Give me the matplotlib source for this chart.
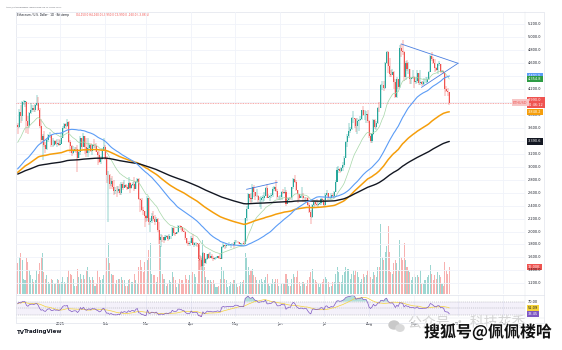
import numpy as np
import pandas as pd
import matplotlib
matplotlib.use("Agg")
import matplotlib.pyplot as plt
import matplotlib.dates as mdates
import matplotlib.transforms as mtransforms
import matplotlib.patheffects as pe
from matplotlib.patches import Ellipse

# ---------------- data (ETH / USD, 1D, Bitstamp) ----------------
dates = pd.date_range("2024-12-03", "2025-09-25", freq="D")
# closes before the first visible bar (Oct 15 - Dec 2, 2024), used only by the 50-day SMA
pre_close = [
    2605, 2610, 2605, 2645, 2645, 2745, 2665, 2620, 2525, 2535, 2440, 2480, 2505, 2570, 2640,
    2660, 2515, 2510, 2490, 2455, 2400, 2420, 2720, 2895, 2960, 3135, 3180, 3370, 3245, 3185,
    3060, 3100, 3130, 3070, 3205, 3105, 3070, 3355, 3330, 3390, 3360, 3415, 3325, 3655, 3585,
    3595, 3705, 3710, 3640,
]
first_open = 3640

close = [
    # Dec 3-31
    3615, 3838, 3785, 3995, 4005, 4005, 3710, 3628, 3830, 3880, 3907, 3870, 3960, 3990, 3880,
    3625, 3420, 3470, 3330, 3280, 3420, 3490, 3490, 3330, 3330, 3400, 3350, 3360, 3335,
    # Jan
    3355, 3450, 3605, 3655, 3635, 3685, 3380, 3325, 3220, 3265, 3280, 3270, 3140, 3225, 3450,
    3310, 3470, 3305, 3220, 3285, 3330, 3240, 3340, 3315, 3318, 3230, 3180, 3080, 3115, 3250, 3300,
    # Feb
    3120, 2870, 2880, 2735, 2785, 2690, 2630, 2630, 2625, 2660, 2600, 2740, 2675, 2725,
    2690, 2660, 2745, 2670, 2720, 2740, 2660, 2765, 2815, 2500, 2480, 2330, 2310, 2235,
    # Mar
    2215, 2520, 2150, 2170, 2240, 2200, 2140, 2200, 2020, 1865, 1920, 1910, 1865, 1910, 1935,
    1885, 1925, 1930, 2055, 1980, 1965, 1985, 2085, 2080, 2065, 2010, 2000, 1895, 1825, 1805, 1820,
    # Apr
    1905, 1795, 1815, 1815, 1805, 1580, 1555, 1470, 1670, 1520, 1570, 1650, 1595, 1620, 1585,
    1575, 1585, 1590, 1615, 1590, 1580, 1755, 1795, 1770, 1785, 1790, 1790, 1800, 1800, 1795,
    # May
    1840, 1840, 1835, 1810, 1815, 1815, 1810, 2210, 2345, 2580, 2510, 2495, 2680, 2610, 2545,
    2545, 2480, 2490, 2525, 2525, 2550, 2665, 2525, 2530, 2550, 2565, 2660, 2680, 2630, 2530, 2530,
    # Jun
    2540, 2610, 2590, 2605, 2420, 2480, 2520, 2510, 2680, 2815, 2770, 2645, 2575, 2525, 2545,
    2545, 2510, 2525, 2520, 2410, 2295, 2230, 2415, 2450, 2420, 2415, 2430, 2435, 2500, 2485,
    # Jul
    2405, 2570, 2590, 2515, 2515, 2570, 2545, 2615, 2770, 2955, 2960, 2940, 2975, 3030, 3140,
    3375, 3475, 3545, 3590, 3755, 3760, 3745, 3630, 3710, 3725, 3745, 3875, 3795, 3795, 3810, 3700,
    # Aug
    3480, 3395, 3500, 3715, 3610, 3680, 3910, 3905, 4255, 4265, 4220, 4595, 4765, 4550, 4440,
    4420, 4470, 4315, 4080, 4350, 4235, 4830, 4780, 4775, 4380, 4600, 4510, 4510, 4360, 4370, 4390,
    # Sep 1-25
    4310, 4330, 4450, 4300, 4305, 4275, 4305, 4310, 4310, 4350, 4460, 4715, 4670, 4600, 4520,
    4500, 4590, 4590, 4470, 4480, 4450, 4200, 4165, 4150, 3990,
]
high = [
    3670, 3890, 3950, 4020, 4030, 4015, 4010, 3790, 3850, 3990, 3955, 3955, 3970, 4107, 4070,
    3900, 3740, 3500, 3550, 3380, 3440, 3500, 3540, 3490, 3440, 3415, 3410, 3430, 3425,
    3410, 3520, 3630, 3675, 3670, 3745, 3700, 3410, 3340, 3320, 3300, 3310, 3330, 3260, 3475,
    3450, 3525, 3440, 3450, 3450, 3370, 3365, 3350, 3425, 3355, 3370, 3240, 3250, 3170, 3285, 3440,
    3330, 3160, 2930, 2890, 2830, 2850, 2800, 2680, 2700, 2700, 2730, 2760, 2760, 2790,
    2730, 2720, 2845, 2760, 2730, 2770, 2845, 2775, 2830, 2830, 2510, 2520, 2380, 2320,
    2260, 2550, 2520, 2210, 2280, 2320, 2260, 2230, 2210, 2150, 1960, 1950, 1920, 1950, 1950,
    1940, 1955, 1935, 2070, 2070, 1990, 1995, 2095, 2105, 2090, 2070, 2040, 2015, 1900, 1850, 1850,
    1925, 1955, 1835, 1835, 1820, 1815, 1640, 1620, 1690, 1670, 1590, 1660, 1665, 1690, 1660,
    1615, 1600, 1600, 1620, 1610, 1660, 1780, 1830, 1795, 1820, 1805, 1840, 1810, 1825, 1840,
    1875, 1870, 1850, 1845, 1830, 1830, 1860, 2215, 2395, 2590, 2580, 2590, 2735, 2715, 2615,
    2650, 2560, 2540, 2550, 2570, 2610, 2690, 2735, 2575, 2560, 2595, 2690, 2710, 2790, 2660, 2550,
    2560, 2620, 2660, 2680, 2640, 2530, 2535, 2540, 2690, 2830, 2880, 2790, 2620, 2585, 2560,
    2680, 2600, 2540, 2535, 2540, 2440, 2330, 2430, 2475, 2480, 2495, 2460, 2450, 2510, 2525,
    2500, 2590, 2640, 2595, 2535, 2590, 2590, 2630, 2790, 2995, 3010, 2975, 2990, 3080, 3160,
    3400, 3510, 3680, 3610, 3765, 3860, 3760, 3760, 3760, 3745, 3780, 3880, 3940, 3880, 3860, 3870,
    3720, 3520, 3510, 3730, 3730, 3700, 3925, 4000, 4275, 4325, 4330, 4625, 4790, 4790, 4680,
    4490, 4510, 4480, 4360, 4380, 4350, 4880, 4890, 4955, 4780, 4640, 4650, 4620, 4510, 4390, 4490,
    4400, 4390, 4490, 4450, 4490, 4320, 4320, 4370, 4380, 4390, 4480, 4725, 4770, 4690, 4670,
    4540, 4600, 4640, 4590, 4495, 4490, 4450, 4240, 4210, 4160,
]
low = [
    3500, 3600, 3680, 3700, 3960, 3930, 3520, 3500, 3600, 3820, 3840, 3850, 3850, 3940, 3860,
    3600, 3350, 3100, 3300, 3220, 3260, 3380, 3450, 3310, 3300, 3320, 3340, 3300, 3320,
    3330, 3350, 3440, 3590, 3590, 3620, 3360, 3210, 3160, 3190, 3230, 3210, 2920, 3130, 3180,
    3275, 3320, 3200, 3150, 3150, 3210, 3230, 3180, 3295, 3285, 3225, 3020, 3060, 3050, 3110, 3240,
    3100, 2750, 2150, 2650, 2700, 2660, 2560, 2580, 2530, 2590, 2560, 2560, 2640, 2670,
    2665, 2640, 2660, 2600, 2650, 2700, 2620, 2650, 2750, 2490, 2300, 2320, 2260, 2075,
    2140, 2170, 2100, 1990, 2130, 2170, 2100, 2140, 1990, 1810, 1760, 1840, 1820, 1860, 1900,
    1860, 1875, 1880, 1925, 1950, 1930, 1960, 1980, 2060, 2030, 1990, 1985, 1870, 1800, 1775, 1780,
    1820, 1785, 1760, 1770, 1765, 1540, 1410, 1450, 1385, 1470, 1500, 1560, 1570, 1600, 1580,
    1540, 1560, 1575, 1585, 1570, 1570, 1575, 1740, 1730, 1750, 1780, 1780, 1745, 1785, 1745,
    1790, 1830, 1820, 1800, 1780, 1780, 1790, 1810, 2170, 2340, 2460, 2420, 2450, 2540, 2490,
    2540, 2460, 2380, 2340, 2460, 2470, 2550, 2510, 2510, 2470, 2525, 2530, 2620, 2610, 2500, 2490,
    2480, 2490, 2580, 2580, 2390, 2420, 2470, 2490, 2490, 2660, 2750, 2620, 2440, 2490, 2510,
    2520, 2450, 2460, 2490, 2400, 2280, 2110, 2210, 2380, 2390, 2400, 2380, 2415, 2410, 2440,
    2380, 2400, 2550, 2480, 2495, 2500, 2520, 2525, 2610, 2760, 2910, 2910, 2920, 2940, 2990,
    3130, 3310, 3440, 3520, 3560, 3670, 3600, 3530, 3500, 3550, 3700, 3720, 3780, 3720, 3680, 3680,
    3450, 3360, 3360, 3490, 3580, 3565, 3660, 3850, 3900, 4180, 4170, 4200, 4580, 4450, 4380,
    4380, 4410, 4200, 4060, 4060, 4200, 4220, 4690, 4720, 4330, 4340, 4480, 4440, 4280, 4280, 4360,
    4210, 4280, 4300, 4260, 4270, 4250, 4260, 4270, 4290, 4290, 4340, 4460, 4630, 4580, 4470,
    4480, 4430, 4560, 4450, 4460, 4440, 4100, 4150, 4100, 3950,
]
volume_k = [
    18, 22, 24, 20, 9, 8, 21, 19, 14, 11, 9, 7, 8, 14, 12, 18, 22, 24, 13, 9, 11, 7, 6, 9, 8, 6, 6, 9, 8,
    6, 7, 10, 7, 6, 10, 14, 12, 11, 9, 5, 5, 15, 10, 12, 9, 11, 9, 14, 16, 10, 8, 10, 8, 5, 6, 14, 10, 8, 9, 11,
    13, 21, 30, 18, 12, 11, 11, 6, 8, 9, 9, 10, 8, 8, 5, 5, 8, 9, 7, 7, 12, 8, 6, 16, 20, 16, 13, 19,
    9, 20, 26, 30, 12, 11, 11, 7, 10, 32, 28, 12, 9, 9, 5, 6, 8, 7, 13, 10, 8, 4, 6, 9, 8, 8, 6, 11, 9, 8, 11,
    11, 13, 12, 10, 6, 20, 30, 22, 32, 16, 10, 8, 8, 8, 7, 8, 6, 4, 4, 5, 9, 16, 14, 9, 8, 4, 5, 7, 6, 8,
    8, 6, 4, 5, 7, 7, 8, 24, 22, 16, 11, 14, 15, 11, 10, 8, 6, 8, 9, 7, 8, 10, 12, 6, 5, 6, 9, 7, 9, 9, 5,
    5, 6, 6, 6, 12, 9, 5, 5, 9, 12, 10, 10, 14, 7, 5, 7, 7, 6, 5, 8, 10, 13, 15, 9, 8, 7, 6, 4, 6, 7,
    9, 10, 9, 7, 4, 5, 7, 7, 12, 16, 13, 7, 7, 11, 13, 16, 15, 15, 9, 12, 14, 11, 14, 13, 10, 7, 9, 12, 10, 11, 14,
    14, 10, 9, 13, 11, 10, 16, 16, 41, 22, 20, 25, 28, 40, 25, 13, 12, 18, 20, 18, 14, 32, 22, 20, 30, 20, 16, 14, 13, 8, 10,
    12, 10, 11, 10, 14, 6, 6, 8, 8, 10, 11, 17, 12, 8, 11, 9, 13, 11, 10, 6, 5, 19, 14, 12, 16,
]

# EMA seeds (value just before the first visible bar)
ema_specs = [(20, 3350, "#a5d6a7", 0.5), (100, 2900, "#f59e0b", 1.1), (200, 2880, "#131722", 1.0)]
sma_len, sma_color = 50, "#5b9cf6"
rsi_seed_gain, rsi_seed_loss = 90.0, 50.0

# trend-line drawings (date, price)
triangle_top = [("2025-08-23", 4896), ("2025-10-01", 4598)]
triangle_low = [("2025-09-06", 4227), ("2025-10-01", 4598)]
channel_top = [("2025-05-09", 2652), ("2025-05-30", 2760)]

price_ticks = list(range(1200, 5201, 200))
month_labels = ["2025", "Feb", "Mar", "Apr", "May", "Jun", "Jul", "Aug", "Sep", "Oct", "Nov"]

# ---------------- derived ----------------
c = np.array(close, float)
o = np.array([first_open] + close[:-1], float)
h = np.maximum(np.array(high, float), np.maximum(o, c))
l = np.minimum(np.array(low, float), np.minimum(o, c))
v = np.array(volume_k, float)
x = mdates.date2num(dates)

UP, DN = "#26a69a", "#ef5350"
up = c >= o
cols = np.where(up, UP, DN)

# ---------------- figure layout ----------------
W, H = 562, 350
fig = plt.figure(figsize=(W / 100, H / 100), dpi=100)
fig.patch.set_facecolor("white")
L, R = 16, 525
def fx(px): return px / W
def fy(py): return 1 - py / H

ax = fig.add_axes([fx(L), fy(294), (R - L) / W, (294 - 12) / H])
axr = fig.add_axes([fx(L), fy(317), (R - L) / W, (317 - 295) / H])

jan1 = mdates.date2num(pd.Timestamp("2025-01-01"))
ppd = 1.458
xlim = (jan1 + (L - 60) / ppd, jan1 + (R - 60) / ppd)

# volume on twin axis
axv = ax.twinx()
axv.set_ylim(0, 166)
axv.set_xlim(*xlim)
axv.set_axis_off()
axv.bar(x, v, width=0.7, color=cols, alpha=0.45, lw=0, zorder=1)
ax.set_zorder(axv.get_zorder() + 1)

for a in (ax, axr):
    a.set_facecolor("none")
    for s in a.spines.values():
        s.set_visible(False)
    a.tick_params(axis="both", which="both", left=False, right=False, labelleft=False,
                  labelright=False, top=False, bottom=False, labelbottom=False)
    a.set_xlim(*xlim)
ax.set_ylim(1035, 5390)

months = mdates.date2num(pd.date_range("2025-01-01", "2025-11-01", freq="MS"))
grid_c = "#f0f3fa"
for m in months:
    ax.axvline(m, color=grid_c, lw=0.6, zorder=0)
    axr.axvline(m, color=grid_c, lw=0.6, zorder=0)
for p in price_ticks:
    ax.axhline(p, color=grid_c, lw=0.6, zorder=0)

# candles
ax.vlines(x, l, h, colors=cols, lw=0.35, zorder=3)
body = np.maximum(np.abs(c - o), 5)
ax.bar(x, body, bottom=np.minimum(o, c), width=0.72, color=cols, lw=0, zorder=3)

# moving averages
emas = {}
for n, seed, col, lw in ema_specs:
    e = pd.Series([seed] + close).ewm(span=n, adjust=False).mean().values[1:]
    emas[n] = e
    ax.plot(x, e, color=col, lw=lw, zorder=4, solid_capstyle="round")
sma = pd.Series(pre_close + close).rolling(sma_len).mean().values[len(pre_close):]
ax.plot(x, sma, color=sma_color, lw=0.8, zorder=4)

# drawings
for seg in (triangle_top, triangle_low, channel_top):
    xs = mdates.date2num(pd.to_datetime([s[0] for s in seg]))
    ax.plot(xs, [s[1] for s in seg], color="#4a7fe0", lw=0.6, zorder=5)

# last price line
ax.axhline(c[-1], color=DN, lw=0.4, ls=(0, (1.5, 1.5)), zorder=2)

# right price scale
bt = mtransforms.blended_transform_factory(ax.transAxes, ax.transData)
def axfx(px): return (px - L) / (R - L)
for p in price_ticks:
    ax.text(axfx(528), p, f"{p:,.1f}", transform=bt, fontsize=2.5, color="#131722",
            va="center", ha="left", clip_on=False, zorder=6)

def badge(a, tr, yv, txt, fc, tc="white", xpx=528):
    a.text(axfx(xpx), yv, txt, transform=tr, fontsize=2.5, color=tc, va="center", ha="left",
           clip_on=False, zorder=8,
           bbox=dict(boxstyle="square,pad=0.35", fc=fc, ec="none"))

badge(ax, bt, sma[-1], f"{sma[-1]:,.1f}", "#5b9cf6")
badge(ax, bt, emas[20][-1], f"{emas[20][-1]:,.1f}", "#2e9c44")
badge(ax, bt, emas[100][-1], f"{emas[100][-1]:,.1f}", "#f59e0b")
badge(ax, bt, emas[200][-1], f"{emas[200][-1]:,.1f}", "#131722")
badge(ax, bt, c[-1], f"{c[-1]:,.1f}\n21:46:12", DN)
badge(ax, bt, c[-1], "ETHUSD", "#f7c6c6", tc=DN, xpx=513)
btv = mtransforms.blended_transform_factory(axv.transAxes, axv.transData)
badge(axv, btv, v[-1], f"{v[-1]:.2f}K", DN)

# ---------------- RSI ----------------
cs = np.concatenate([[first_open], c])
d = np.diff(cs)
gain = pd.Series([rsi_seed_gain] + list(np.clip(d, 0, None)))
loss = pd.Series([rsi_seed_loss] + list(np.clip(-d, 0, None)))
ag = gain.ewm(alpha=1 / 14, adjust=False).mean().values[1:]
al = loss.ewm(alpha=1 / 14, adjust=False).mean().values[1:]
rsi = 100 - 100 / (1 + ag / al)
rsi_ma = pd.Series(rsi).rolling(14, min_periods=1).mean().values

axr.set_ylim(24.1, 89.3)
axr.axhspan(30, 70, color="#7e57c2", alpha=0.08, lw=0, zorder=0)
for lv in (70, 50, 30):
    axr.axhline(lv, color="#9598a1", lw=0.35, ls=(0, (2, 2)), zorder=1)
axr.fill_between(x, 70, rsi, where=rsi > 70, color="#26a69a", alpha=0.35, lw=0, interpolate=True)
axr.fill_between(x, 30, rsi, where=rsi < 30, color="#ef5350", alpha=0.35, lw=0, interpolate=True)
axr.plot(x, rsi_ma, color="#f5d33b", lw=0.5, zorder=3)
axr.plot(x, rsi, color="#7e57c2", lw=0.5, zorder=4)
btr = mtransforms.blended_transform_factory(axr.transAxes, axr.transData)
axr.text(axfx(528), 70, "70.00", transform=btr, fontsize=2.5, color="#131722", va="center",
         ha="left", clip_on=False)
badge(axr, btr, rsi_ma[-1], f"{rsi_ma[-1]:.2f}", "#f5d33b", tc="#131722")
badge(axr, btr, rsi[-1], f"{rsi[-1]:.2f}", "#7e57c2")

# x labels
axr.set_xticks(months)
axr.set_xticklabels(month_labels)
axr.tick_params(axis="x", labelbottom=True, bottom=False, pad=0.4, labelsize=2.5, labelcolor="#131722")

# ---------------- overlay: frame, header, logos ----------------
ov = fig.add_axes([0, 0, 1, 1])
ov.set_xlim(0, W)
ov.set_ylim(H, 0)
ov.set_axis_off()
ov.set_facecolor("none")
fc = "#e0e3eb"
ov.plot([L, 544, 544, L, L], [12, 12, 323, 323, 12], color=fc, lw=0.5)
ov.plot([L, 544], [294.5, 294.5], color=fc, lw=0.5)
ov.plot([L, 544], [317.5, 317.5], color=fc, lw=0.3)
ov.plot([R, R], [12, 317.5], color=fc, lw=0.3)

ov.text(6, 7.5, "tokenly_cryptos published on TradingView.com, Sep 25, 2025 02:13 UTC",
        fontsize=1.1, color="#434651", va="center", ha="left")
chg = c[-1] - o[-1]
ov.text(17, 15, "Ethereum / U.S. Dollar · 1D · Bitstamp", fontsize=2.0, color="#131722",
        va="center", ha="left")
ov.text(76, 15, f"O{o[-1]:,.1f} H{h[-1]:,.1f} L{l[-1]:,.1f} C{c[-1]:,.1f} {chg:+,.1f} ({chg / o[-1] * 100:+.2f}%)",
        fontsize=2.0, color=DN, va="center", ha="left")

ov.text(17, 332, "TV", fontsize=4, fontweight="bold", color="#131722", va="center", ha="left")
ov.text(24, 332, "TradingView", fontsize=4, fontweight="bold", color="#131722", va="center", ha="left")

# watermark
ov.add_patch(Ellipse((394, 325), 10, 8, color="#c9c9c9", zorder=9))
ov.add_patch(Ellipse((400, 328), 8, 6.5, color="#d9d9d9", zorder=9))
ov.text(408, 323, "公众号 · 科技花香", fontsize=10, color="#d4d4d4", va="center", ha="left",
        family=["Noto Sans CJK SC", "DejaVu Sans"], zorder=9)
ov.text(424, 332, "搜狐号@佩佩楼哈", fontsize=11.5, fontweight="bold", color="#111111",
        va="center", ha="left", family=["Noto Sans CJK SC", "DejaVu Sans"], zorder=10,
        path_effects=[pe.withStroke(linewidth=1.5, foreground="white")])

fig.savefig("out.png", dpi=100, facecolor="white")
